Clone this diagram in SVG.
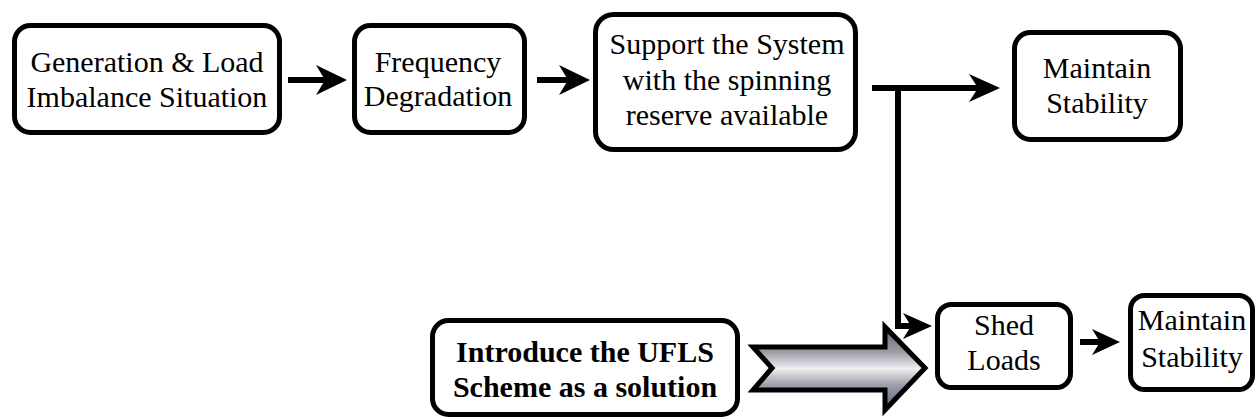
<svg xmlns="http://www.w3.org/2000/svg" width="1257" height="419" viewBox="0 0 1257 419">
  <style>
    .box { fill: #ffffff; stroke: #000000; stroke-width: 5; }
    .lbl { font-family: "Liberation Serif", "Times New Roman", serif; font-size: 30px; fill: #000000; text-anchor: middle; }
    .bold { font-weight: bold; }
    .wire { fill: none; stroke: #000000; stroke-width: 6; stroke-linejoin: miter; }
    .head { fill: #000000; }
  </style>
  <defs>
    <linearGradient id="metal" x1="0" y1="0" x2="0" y2="1">
      <stop offset="0" stop-color="#5e616d"/>
      <stop offset="0.3" stop-color="#9a9ca6"/>
      <stop offset="0.5" stop-color="#eeeef1"/>
      <stop offset="0.7" stop-color="#9c9eaa"/>
      <stop offset="1" stop-color="#5a5e70"/>
    </linearGradient>
  </defs>

  <!-- connectors -->
  <g id="connectors">
    <!-- imbalance -> frequency degradation -->
    <line class="wire" x1="288" y1="80" x2="330" y2="80"/>
    <path class="head" d="M347,80 L316,65 L325,80 L316,95 Z"/>
    <!-- frequency degradation -> spinning reserve -->
    <line class="wire" x1="537" y1="80" x2="572" y2="80"/>
    <path class="head" d="M590,80 L559,65 L568,80 L559,95 Z"/>
    <!-- spinning reserve -> maintain stability, with branch to shed loads -->
    <line class="wire" x1="872" y1="88" x2="985" y2="88"/>
    <path class="head" d="M1000,88 L969,74 L978,88 L969,102 Z"/>
    <polyline class="wire" points="898,88 898,326 915,326"/>
    <path class="head" d="M932,326 L903,313 L911,326 L903,339 Z"/>
    <!-- shed loads -> maintain stability -->
    <line class="wire" x1="1080" y1="342" x2="1104" y2="342"/>
    <path class="head" d="M1120,342 L1092,329 L1100,342 L1092,355 Z"/>
    <!-- UFLS block arrow -->
    <path d="M753,347 L885,347 L885,327 L925,368 L885,410 L885,390 L753,390 L772,368 Z" fill="url(#metal)" stroke="#000000" stroke-width="5" stroke-linejoin="miter"/>
  </g>

  <g id="imbalance">
    <rect class="box" x="14.5" y="25.5" width="265" height="107" rx="16"/>
    <text class="lbl" x="147" y="72">Generation &amp; Load</text>
    <text class="lbl" x="147" y="107">Imbalance Situation</text>
  </g>

  <g id="frequency">
    <rect class="box" x="354.5" y="25.5" width="170" height="107" rx="16"/>
    <text class="lbl" x="438" y="72">Frequency</text>
    <text class="lbl" x="438" y="106">Degradation</text>
  </g>

  <g id="spinning-reserve">
    <rect class="box" x="595.5" y="14.5" width="260" height="135" rx="18"/>
    <text class="lbl" x="727" y="54">Support the System</text>
    <text class="lbl" x="727" y="90">with the spinning</text>
    <text class="lbl" x="727" y="125">reserve available</text>
  </g>

  <g id="maintain-top">
    <rect class="box" x="1014.5" y="32.5" width="166" height="107" rx="16"/>
    <text class="lbl" x="1097" y="78">Maintain</text>
    <text class="lbl" x="1097" y="113">Stability</text>
  </g>

  <g id="ufls">
    <rect class="box" x="432.5" y="320.5" width="305" height="94" rx="16"/>
    <text class="lbl bold" x="585" y="362">Introduce the UFLS</text>
    <text class="lbl bold" x="585" y="397">Scheme as a solution</text>
  </g>

  <g id="shed-loads">
    <rect class="box" x="937.5" y="304.5" width="133" height="83" rx="14"/>
    <text class="lbl" x="1004" y="335">Shed</text>
    <text class="lbl" x="1004" y="370">Loads</text>
  </g>

  <g id="maintain-bottom">
    <rect class="box" x="1130.5" y="295.5" width="122" height="94" rx="14"/>
    <text class="lbl" x="1192" y="330">Maintain</text>
    <text class="lbl" x="1192" y="367">Stability</text>
  </g>
</svg>
